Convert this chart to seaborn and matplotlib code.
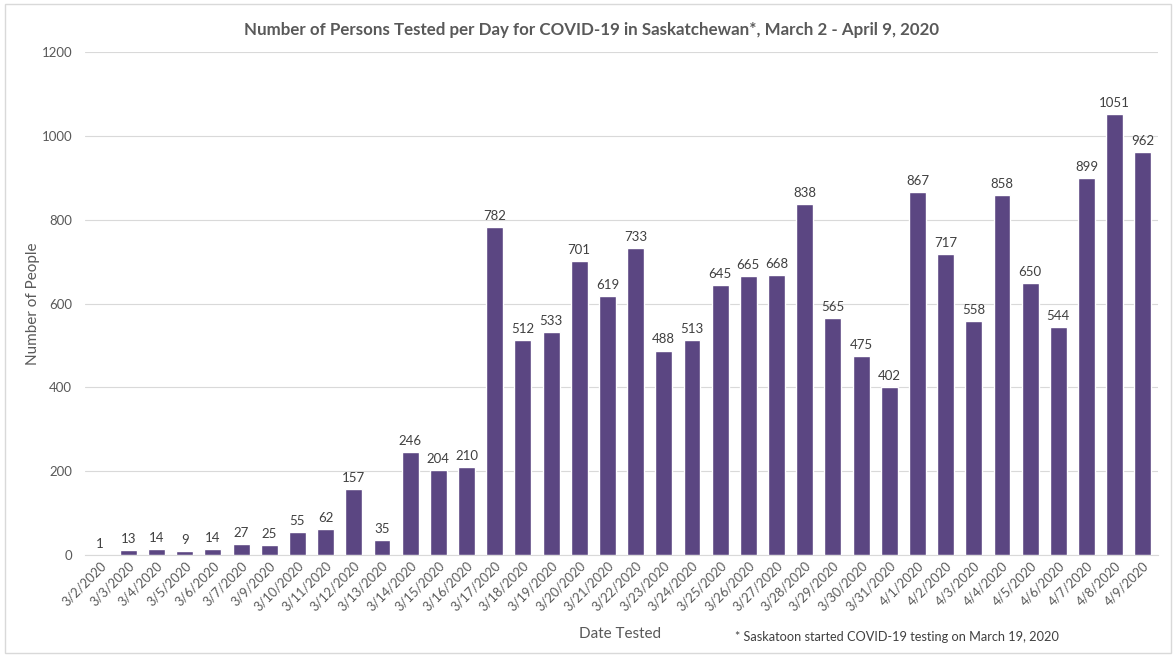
import matplotlib
matplotlib.use("Agg")
import matplotlib.pyplot as plt
import seaborn as sns
import pandas as pd

dates = ['3/2/2020', '3/3/2020', '3/4/2020', '3/5/2020', '3/6/2020', '3/7/2020', '3/9/2020',
         '3/10/2020', '3/11/2020', '3/12/2020', '3/13/2020', '3/14/2020', '3/15/2020',
         '3/16/2020', '3/17/2020', '3/18/2020', '3/19/2020', '3/20/2020', '3/21/2020',
         '3/22/2020', '3/23/2020', '3/24/2020', '3/25/2020', '3/26/2020', '3/27/2020',
         '3/28/2020', '3/29/2020', '3/30/2020', '3/31/2020', '4/1/2020', '4/2/2020',
         '4/3/2020', '4/4/2020', '4/5/2020', '4/6/2020', '4/7/2020', '4/8/2020', '4/9/2020']
tested = [1, 13, 14, 9, 14, 27, 25, 55, 62, 157, 35, 246, 204, 210, 782, 512, 533, 701, 619,
          733, 488, 513, 645, 665, 668, 838, 565, 475, 402, 867, 717, 558, 858, 650, 544,
          899, 1051, 962]
yticks = [0, 200, 400, 600, 800, 1000, 1200]

df = pd.DataFrame({'date': dates, 'tested': tested})

sns.set_style('white')
plt.rcParams['font.family'] = ['Lato', 'DejaVu Sans']

grey = '#595959'
bar_color = '#5b4682'

fig = plt.figure(figsize=(11.76, 6.57), dpi=100)
ax = fig.add_axes([0.072, 0.155, 0.913, 0.766])

sns.barplot(data=df, x='date', y='tested', color=bar_color, width=0.6,
            saturation=1, ax=ax, zorder=3)

for i, v in enumerate(tested):
    ax.text(i, v + 12, str(v), ha='center', va='bottom', fontsize=9.5, color='#404040')

ax.set_ylim(0, 1200)
ax.set_yticks(yticks)
ax.set_xlim(-0.55, len(dates) - 0.45)
ax.yaxis.grid(True, color='#d9d9d9', linewidth=0.8, zorder=0)
for s in ['top', 'right', 'left']:
    ax.spines[s].set_visible(False)
ax.spines['bottom'].set_color('#d9d9d9')

ax.tick_params(axis='y', length=0, labelsize=9.5, labelcolor=grey, pad=9)
ax.tick_params(axis='x', length=0, labelsize=9.3, labelcolor=grey, pad=3)
plt.setp(ax.get_xticklabels(), rotation=45, ha='right', rotation_mode='anchor')

ax.set_xlabel('')
ax.set_ylabel('Number of People', fontsize=11, color=grey, labelpad=1)

fig.text(0.527, 0.035, 'Date Tested', ha='center', va='center', fontsize=11, color=grey)
fig.text(0.503, 0.955, 'Number of Persons Tested per Day for COVID-19 in Saskatchewan*, March 2 - April 9, 2020',
         ha='center', va='center', fontsize=12.2, fontweight='bold', color=grey)
fig.text(0.625, 0.031, '* Saskatoon started COVID-19 testing on March 19, 2020',
         ha='left', va='center', fontsize=9.2, color='#404040')

border = plt.Rectangle((0.004, 0.006), 0.992, 0.988, transform=fig.transFigure,
                       fill=False, edgecolor='#d9d9d9', linewidth=1)
fig.patches.append(border)

fig.savefig('out.png', dpi=100)
